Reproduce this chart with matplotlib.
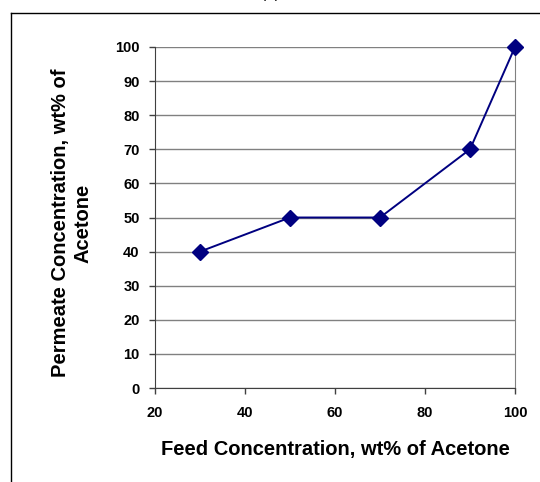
import matplotlib
matplotlib.use("Agg")
import matplotlib.pyplot as plt
from matplotlib.lines import Line2D

feed = [30, 50, 70, 90, 100]
permeate = [40, 50, 50, 70, 100]
xticks = [20, 40, 60, 80, 100]
yticks = [0, 10, 20, 30, 40, 50, 60, 70, 80, 90, 100]

plt.rcParams['font.family'] = ['Liberation Sans', 'DejaVu Sans']

fig = plt.figure(figsize=(5.4, 4.82), dpi=100)
ax = fig.add_axes([155/540, 1-388/482, (515-155)/540, (388-47)/482])

ax.plot(feed, permeate, color='#000080', marker='D', markersize=8.5, linewidth=1.4, clip_on=False, zorder=5)
ax.set_xlim(20, 100)
ax.set_ylim(0, 100)
ax.set_xticks(xticks)
ax.set_yticks(yticks)
ax.set_xticklabels([str(v) for v in xticks], fontsize=10.5, fontweight='bold')
ax.set_yticklabels([str(v) for v in yticks], fontsize=10.5, fontweight='bold')
ax.yaxis.grid(True, color='#808080', linewidth=1.0)
ax.set_axisbelow(True)
ax.spines['top'].set_visible(False)
ax.spines['right'].set_color('#808080')
ax.spines['left'].set_color('#404040')
ax.spines['bottom'].set_color('#404040')
ax.tick_params(axis='both', direction='out', length=4, color='#404040', width=1)
ax.tick_params(axis='x', pad=9)
ax.tick_params(axis='y', pad=7)

ax.set_xlabel('Feed Concentration, wt% of Acetone', fontsize=14.5, fontweight='bold', labelpad=14)
fig.text(72/540, 1-223/482, 'Permeate Concentration, wt% of\nAcetone', rotation=90,
         ha='center', va='center', multialignment='center', fontsize=14.5,
         fontweight='bold', linespacing=1.2)

fig.text(0.5, 1.012, '(a)', ha='center', va='center', fontsize=11)

fx = 11/540
fy = 1 - 13/482
fig.add_artist(Line2D([fx, fx], [0, fy], transform=fig.transFigure, color='black', linewidth=1))
fig.add_artist(Line2D([fx, 1], [fy, fy], transform=fig.transFigure, color='black', linewidth=1))

fig.savefig('out.png', dpi=100)
